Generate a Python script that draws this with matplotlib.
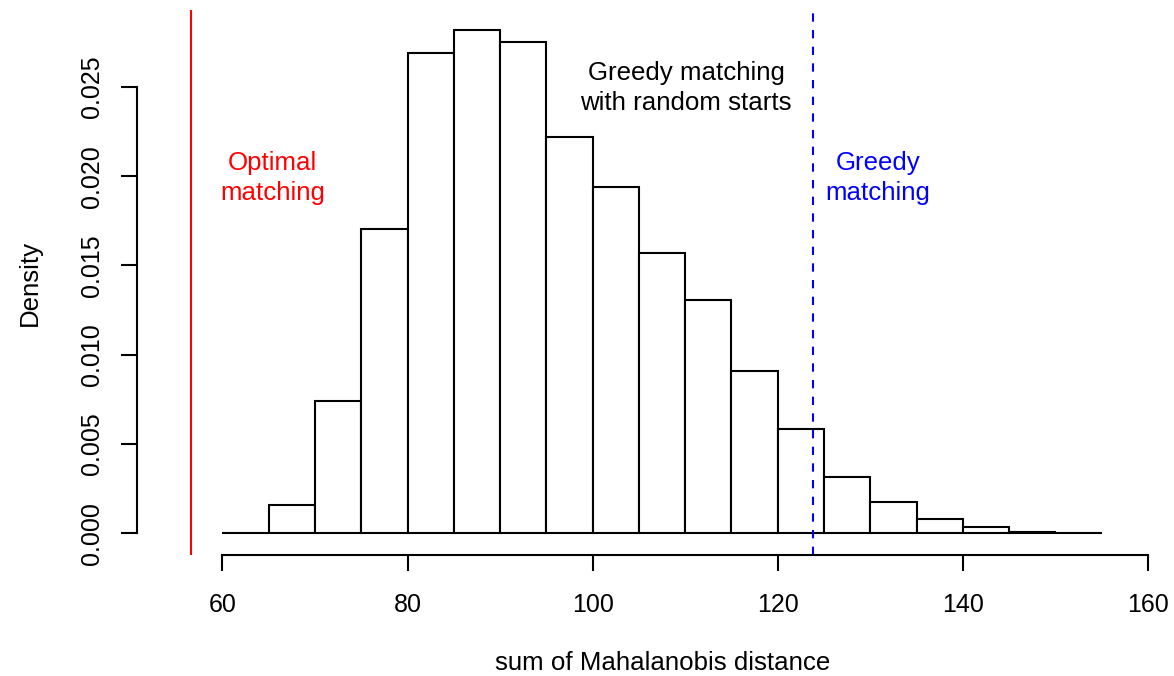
import numpy as np
import matplotlib
matplotlib.use('Agg')
import matplotlib.pyplot as plt

# --- data ---
bin_edges = np.arange(60, 155, 5)   # left edges, 60 .. 150
density = [0.00003, 0.0016, 0.00739, 0.01706, 0.02689, 0.02819, 0.0275,
           0.0222, 0.01937, 0.01572, 0.01307, 0.0091, 0.00582, 0.00315,
           0.00173, 0.00078, 0.00034, 0.0001, 0.00002]
optimal_value = 56.65
greedy_value = 123.8
x_ticks = [60, 80, 100, 120, 140, 160]
y_ticks = [0.0, 0.005, 0.010, 0.015, 0.020, 0.025]

plt.rcParams['font.family'] = ['Liberation Sans', 'DejaVu Sans']
plt.rcParams['font.size'] = 18.6

W, H = 1174, 676
fig = plt.figure(figsize=(W / 100, H / 100), dpi=100)
# plot region in pixels: x 178..1148, y 10..555
ax = fig.add_axes([178 / W, 1 - 555 / H, (1148 - 178) / W, (555 - 10) / H])

ax.bar(bin_edges, density, width=5, align='edge', color='white',
       edgecolor='black', linewidth=1.5)

ax.axvline(optimal_value, color='#ff0000', linewidth=1.5)
ax.axvline(greedy_value, color='#0000ff', linewidth=1.5, linestyle=(0, (4, 4)))

ax.text(65.4, 0.0199, 'Optimal\nmatching', color='#ff0000',
        ha='center', va='center', linespacing=1.33)
ax.text(110.1, 0.02494, 'Greedy matching\nwith random starts', color='black',
        ha='center', va='center', linespacing=1.33)
ax.text(130.8, 0.0199, 'Greedy\nmatching', color='#0000ff',
        ha='center', va='center', linespacing=1.33)

ax.set_xlim(55.2, 160)
ax.set_ylim(-0.00121, 0.0293)

# R-style axes
for s in ['top', 'right']:
    ax.spines[s].set_visible(False)
ax.spines['left'].set_position(('outward', 41 * 0.72))
ax.spines['left'].set_bounds(0, 0.025)
ax.spines['bottom'].set_bounds(60, 160)
for s in ['left', 'bottom']:
    ax.spines[s].set_linewidth(1.5)

ax.set_xticks(x_ticks)
ax.set_yticks(y_ticks)
ax.set_yticklabels([f'{v:.3f}' for v in y_ticks], rotation=90, va='center')
ax.tick_params(axis='both', length=11.5, width=1.5, labelsize=18)
ax.tick_params(axis='x', pad=16)
ax.tick_params(axis='y', pad=12)

ax.set_xlabel('sum of Mahalanobis distance', va='center')
ax.xaxis.set_label_coords(0.5, -108 / 545)
ax.set_ylabel('Density', va='center')
ax.yaxis.set_label_coords((30 - 178) / 970, 0.5)

fig.savefig('out.png', dpi=100)
